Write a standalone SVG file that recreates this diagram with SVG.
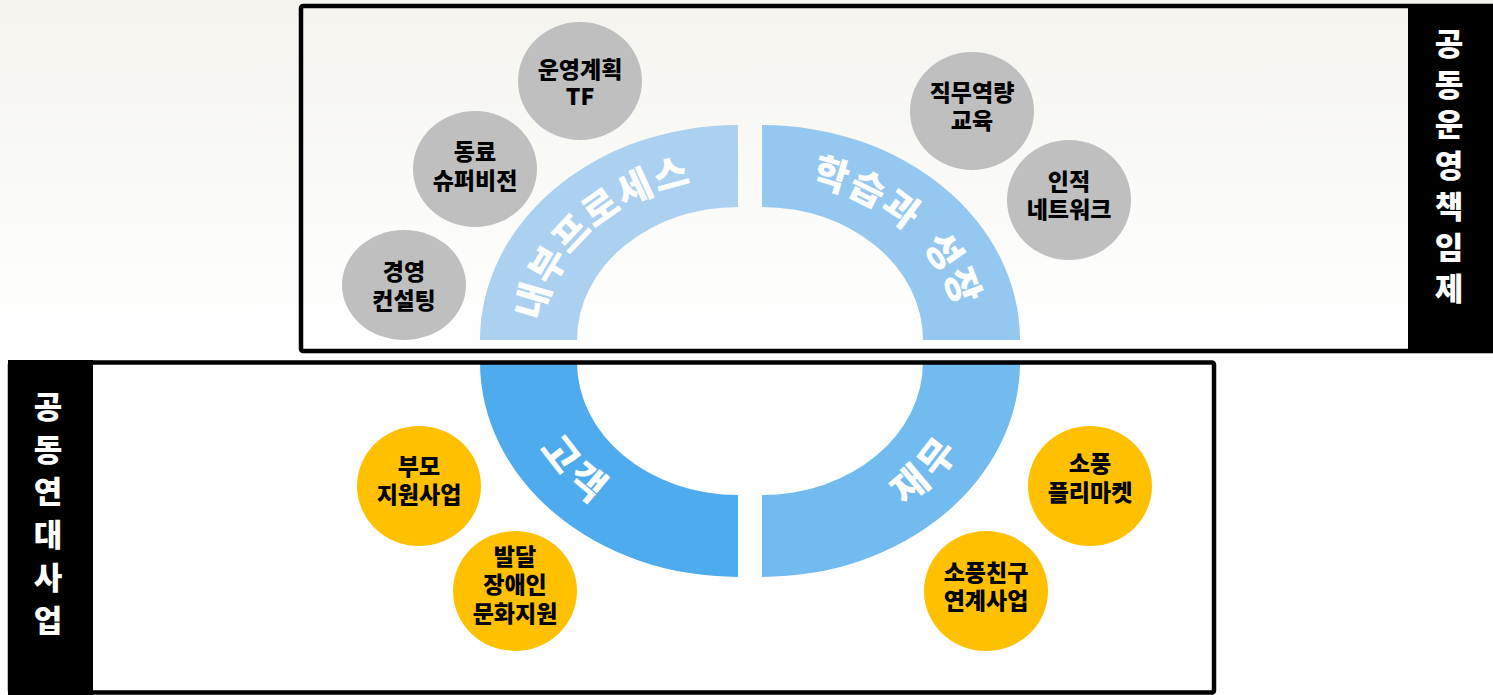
<svg xmlns="http://www.w3.org/2000/svg" width="1493" height="695" viewBox="0 0 1493 695">
<defs>
<linearGradient id="bg" x1="0" y1="0" x2="0" y2="1">
<stop offset="0" stop-color="#f5f4ef"/>
<stop offset="1" stop-color="#ffffff"/>
</linearGradient>
<path id="pTL" d="M 528 340 A 210 174 0 0 1 738 166"/>
<path id="pTR" d="M 762 166 A 210 174 0 0 1 972 340"/>
<path id="pBL" d="M 528 362 A 210 174 0 0 0 738 536"/>
<path id="pBR" d="M 762 536 A 210 174 0 0 0 972 362"/>
</defs>
<style>
.frame{fill:none;stroke:#000;stroke-width:4.5}
.panel{fill:#000}
.side{font-family:"Noto Sans CJK KR","Noto Sans",sans-serif;font-weight:900;font-size:31px;fill:#fff;text-anchor:middle}
.gray{fill:#bfbfbf}
.gold{fill:#ffc000}
.lbl{font-family:"Noto Sans CJK KR","Noto Sans",sans-serif;font-weight:900;font-size:23px;fill:#000;text-anchor:middle}
.arc{font-family:"Noto Sans CJK KR","Noto Sans",sans-serif;font-weight:900;font-size:38px;fill:#fff;letter-spacing:4px}
</style>
<rect x="0" y="0" width="1493" height="356" fill="url(#bg)"/>
<rect x="0" y="356" width="1493" height="339" fill="#ffffff"/>
<rect x="10" y="362.5" width="1204" height="330" fill="#ffffff"/>

<g id="ring">
<path d="M 480 340 A 258 215 0 0 1 738 125 L 738 207 A 161 133 0 0 0 577 340 Z" fill="#abd0f0"/>
<path d="M 762 125 A 258 215 0 0 1 1020 340 L 923 340 A 161 133 0 0 0 762 207 Z" fill="#94c8f0"/>
<path d="M 480 362 A 258 215 0 0 0 738 577 L 738 495 A 161 133 0 0 1 577 362 Z" fill="#4eabee"/>
<path d="M 762 577 A 258 215 0 0 0 1020 362 L 923 362 A 161 133 0 0 1 762 495 Z" fill="#71bbef"/>
<text class="arc" dy="13"><textPath href="#pTL" startOffset="46%" text-anchor="middle">내부프로세스</textPath></text>
<text class="arc" dy="13" word-spacing="8"><textPath href="#pTR" startOffset="53%" text-anchor="middle">학습과 성장</textPath></text>
<text class="arc" dy="13"><textPath href="#pBL" startOffset="40%" text-anchor="middle">고객</textPath></text>
<text class="arc" dy="13"><textPath href="#pBR" startOffset="60%" text-anchor="middle">재무</textPath></text>
</g>

<g id="top-frame">
<rect class="frame" x="301" y="6" width="1200" height="345" rx="2"/>
<rect class="panel" x="1408" y="4" width="85" height="349"/>
<text class="side" x="1449" y="55"><tspan x="1449">공</tspan><tspan x="1449" dy="41">동</tspan><tspan x="1449" dy="40">운</tspan><tspan x="1449" dy="41">영</tspan><tspan x="1449" dy="41">책</tspan><tspan x="1449" dy="41">임</tspan><tspan x="1449" dy="41">제</tspan></text>
</g>

<g id="bottom-frame">
<rect class="frame" x="10" y="362.5" width="1204" height="330" rx="2"/>
<rect class="panel" x="8" y="360" width="85" height="335"/>
<text class="side" x="48" y="418"><tspan x="48">공</tspan><tspan x="48" dy="43">동</tspan><tspan x="48" dy="42">연</tspan><tspan x="48" dy="43">대</tspan><tspan x="48" dy="43">사</tspan><tspan x="48" dy="43">업</tspan></text>
</g>

<g id="n-plan"><ellipse class="gray" cx="580" cy="81" rx="62" ry="59"/><text class="lbl" x="580" y="78"><tspan x="580">운영계획</tspan><tspan x="580" dy="27">TF</tspan></text></g>
<g id="n-peer"><ellipse class="gray" cx="475" cy="169" rx="62" ry="58"/><text class="lbl" x="475" y="160"><tspan x="475">동료</tspan><tspan x="475" dy="29">슈퍼비전</tspan></text></g>
<g id="n-consult"><ellipse class="gray" cx="404" cy="285" rx="62" ry="55"/><text class="lbl" x="404" y="280"><tspan x="404">경영</tspan><tspan x="404" dy="29">컨설팅</tspan></text></g>
<g id="n-edu"><ellipse class="gray" cx="972" cy="111" rx="62" ry="59"/><text class="lbl" x="972" y="101"><tspan x="972">직무역량</tspan><tspan x="972" dy="28">교육</tspan></text></g>
<g id="n-network"><ellipse class="gray" cx="1069" cy="200" rx="62" ry="60"/><text class="lbl" x="1069" y="190"><tspan x="1069">인적</tspan><tspan x="1069" dy="28">네트워크</tspan></text></g>
<g id="n-parent"><ellipse class="gold" cx="419" cy="486" rx="62" ry="60"/><text class="lbl" x="419" y="475"><tspan x="419">부모</tspan><tspan x="419" dy="28">지원사업</tspan></text></g>
<g id="n-culture"><ellipse class="gold" cx="515" cy="591" rx="62" ry="60"/><text class="lbl" x="515" y="565"><tspan x="515">발달</tspan><tspan x="515" dy="28">장애인</tspan><tspan x="515" dy="29">문화지원</tspan></text></g>
<g id="n-market"><ellipse class="gold" cx="1090" cy="486" rx="62" ry="60"/><text class="lbl" x="1090" y="472"><tspan x="1090">소풍</tspan><tspan x="1090" dy="29">플리마켓</tspan></text></g>
<g id="n-friend"><ellipse class="gold" cx="986" cy="591" rx="62" ry="60"/><text class="lbl" x="986" y="581"><tspan x="986">소풍친구</tspan><tspan x="986" dy="28">연계사업</tspan></text></g>
</svg>
